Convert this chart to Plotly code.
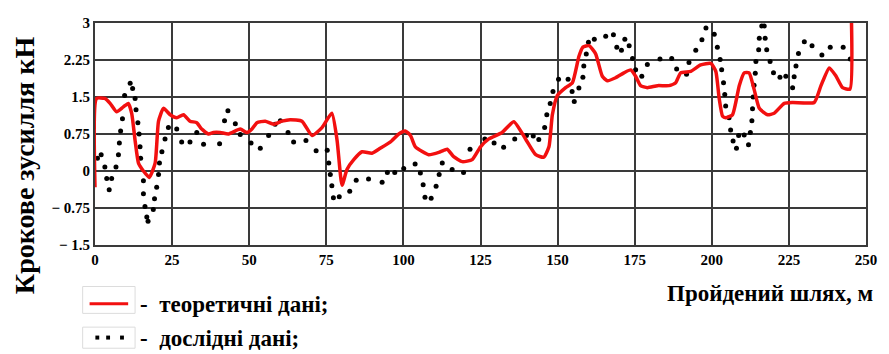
import plotly.graph_objects as go

# theoretical curve (red)
theory_x = [0.0, 0.5, 3.2, 4.9, 7.0, 9.2, 10.8, 11.9, 13.0, 14.1, 15.7, 17.6, 19.5, 20.6,
            22.2, 24.4, 26.5, 28.7, 30.8, 33.0, 34.6, 36.8, 38.4, 40.6, 43.3, 47.1, 49.3,
            50.9, 52.5, 55.2, 57.9, 60.6, 63.3, 67.1, 70.4, 73.6, 76.8, 78.5, 80.1, 81.7,
            83.9, 86.6, 89.8, 92.5, 95.8, 98.5, 100.6, 102.3, 103.9, 108.2, 112.0, 114.2,
            116.3, 119.1, 122.3, 125.0, 127.7, 132.0, 135.8, 139.6, 142.9, 145.5, 147.2,
            148.3, 149.9, 152.6, 154.8, 156.9, 158.2, 160.2, 162.3, 164.5, 166.1, 168.8,
            171.5, 173.7, 175.3, 176.9, 179.1, 182.4, 186.1, 188.3, 189.9, 193.2, 196.4,
            199.7, 201.3, 202.4, 203.5, 204.5, 206.7, 208.9, 210.5, 212.1, 213.7, 215.4,
            218.1, 220.2, 223.5, 226.2, 233.2, 235.4, 238.1, 240.3, 242.4, 244.8, 245.3]
theory_y = [-0.33, 1.47, 1.47, 1.37, 1.2, 1.30, 1.37, 1.17, 0.62, 0.16, 0.0, -0.13, 0.16, 1.01,
            1.27, 1.14, 1.08, 1.14, 1.01, 0.98, 0.85, 0.75, 0.78, 0.78, 0.75, 0.85, 0.78,
            0.85, 0.98, 1.01, 0.95, 1.01, 1.04, 1.01, 0.72, 0.88, 1.17, 0.62, -0.29, 0.03,
            0.23, 0.39, 0.36, 0.46, 0.59, 0.75, 0.81, 0.72, 0.49, 0.33, 0.39, 0.44,
            0.29, 0.19, 0.23, 0.49, 0.65, 0.78, 1.0, 0.65, 0.33, 0.28, 0.49,
            1.14, 1.53, 1.69, 1.79, 2.32, 2.51, 2.54, 2.38, 1.92, 1.83, 1.89,
            1.99, 2.05, 1.92, 1.73, 1.69, 1.73, 1.73, 1.79, 1.99, 2.02, 2.15,
            2.18, 2.02, 1.47, 1.11, 1.08, 1.14, 1.73, 1.99, 1.99, 1.66, 1.27,
            1.14, 1.17, 1.37, 1.39, 1.39, 1.73, 2.09, 1.92, 1.69, 1.66, 3.0]

# experimental points (black dots)
exp_x = [0.8, 2.0, 3.2, 3.8, 4.6, 5.4, 6.8, 7.6, 7.9, 8.3, 8.9, 9.6, 11.4, 12.2, 13.0, 13.3,
         13.9, 14.3, 14.6, 14.8, 15.7, 15.7, 16.2, 16.8, 17.2, 18.9, 19.3, 20.0, 20.6, 20.9,
         21.7, 22.7, 23.8, 26.5, 28.1, 30.8, 33.0, 35.2, 40.4, 42.0, 43.1, 45.5, 47.1, 50.6,
         53.6, 56.3, 58.4, 60.1, 62.6, 64.4, 68.4, 71.7, 75.3, 75.8, 76.3, 76.8, 77.3, 79.2,
         82.6, 84.7, 88.7, 93.1, 94.8, 97.2, 100.1, 103.8, 105.5, 106.4, 107.0, 109.0, 110.6,
         111.6, 112.6, 115.8, 119.5, 121.6, 126.4, 129.4, 132.5, 136.1, 139.9, 142.1, 143.9,
         145.8, 146.5, 147.6, 148.5, 150.3, 153.4, 154.7, 155.4, 156.9, 158.2, 158.5, 159.3,
         160.0, 161.9, 165.6, 168.1, 169.2, 170.7, 171.8, 173.2, 174.3, 175.3, 177.3, 179.1,
         183.2, 187.0, 188.6, 191.8, 192.6, 194.8, 196.8, 198.1, 200.8, 201.8, 202.7, 203.2,
         203.8, 204.2, 204.5, 205.6, 206.1, 206.9, 208.0, 208.7, 210.5, 211.9, 212.5, 213.0,
         213.2, 213.4, 213.7, 214.1, 214.3, 215.2, 215.4, 216.2, 217.0, 217.3, 217.8, 218.9,
         220.0, 222.1, 224.0, 226.2, 226.7, 227.3, 228.1, 230.0, 232.5, 235.7, 238.4, 242.6,
         244.9]
exp_y = [0.26, 0.33, 0.08, -0.15, -0.38, -0.15, 0.08, 0.33, 0.57, 0.81, 1.06, 1.53, 1.78, 1.67,
         1.47, 1.24, 0.98, 0.75, 0.49, 0.26, -0.2, -0.46, -0.72, -0.93, -1.02, -0.78, -0.56,
         -0.33, -0.07, 0.16, 0.39, 0.65, 0.88, 0.85, 0.59, 0.59, 0.78, 0.54, 0.55, 1.02, 1.22,
         0.96, 0.74, 0.57, 0.46, 0.72, 0.95, 1.02, 0.78, 0.59, 0.62, 0.41, 0.42, 0.16, -0.07,
         -0.3, -0.54, -0.52, -0.41, -0.19, -0.16, -0.23, -0.03, -0.03, 0.05, 0.14, -0.04,
         -0.28, -0.53, -0.55, -0.31, -0.07, 0.16, 0.03, -0.03, 0.44, 0.65, 0.57, 0.48, 0.65,
         0.72, 0.71, 0.64, 0.88, 1.14, 1.37, 1.61, 1.86, 1.86, 1.61, 1.41, 1.68, 1.9, 2.13,
         2.37, 2.61, 2.67, 2.73, 2.76, 2.51, 2.45, 2.67, 2.54, 2.28, 2.05, 1.92, 2.16, 2.27,
         2.28, 2.07, 1.96, 2.2, 2.45, 2.66, 2.9, 2.77, 2.51, 2.26, 2.05, 1.79, 1.55, 1.32,
         1.08, 0.83, 0.61, 0.46, 0.72, 0.73, 0.53, 0.78, 1.02, 1.26, 1.5, 1.74, 1.98, 2.22,
         2.46, 2.69, 2.94, 2.94, 2.69, 2.46, 2.22, 1.99, 1.9, 1.92, 1.69, 1.91, 2.13, 2.38,
         2.62, 2.54, 2.35, 2.51, 2.51, 2.27]

x_ticks = [0, 25, 50, 75, 100, 125, 150, 175, 200, 225, 250]
y_ticks = [-1.5, -0.75, 0, 0.75, 1.5, 2.25, 3]
y_tick_text = ["\u2212 1.5", "\u2212 0.75", "0", "0.75", "1.5", "2.25", "3"]

serif = "Liberation Serif, Times New Roman, serif"
grid_col = "#3a3a3a"
red = "#f21010"

fig = go.Figure()

fig.add_trace(go.Scatter(
    x=exp_x, y=exp_y, mode="markers",
    marker=dict(color="black", size=5),
    showlegend=False
))
fig.add_trace(go.Scatter(
    x=theory_x, y=theory_y, mode="lines",
    line=dict(color=red, width=3.5, shape="spline", smoothing=0.5),
    showlegend=False
))

# manual legend below the plot: faint boxes, symbols and labels
for y0, y1 in [(-0.187, -0.308), (-0.370, -0.465)]:
    fig.add_shape(type="rect", xref="paper", yref="paper",
                  x0=-0.016, x1=0.052, y0=y0, y1=y1,
                  line=dict(color="#dcdcdc", width=1))
fig.add_shape(type="line", xref="paper", yref="paper",
              x0=-0.007, x1=0.043, y0=-0.265, y1=-0.265,
              line=dict(color=red, width=3))
for xd in [0.003, 0.017, 0.035]:
    fig.add_shape(type="rect", xref="paper", yref="paper",
                  x0=xd - 0.0025, x1=xd + 0.0025, y0=-0.417 - 0.009, y1=-0.417 + 0.009,
                  fillcolor="black", line=dict(width=0))

ann_font = dict(family=serif, size=23, color="black", weight="bold")
fig.add_annotation(text="-  теоретичні дані;", xref="paper", yref="paper",
                   x=0.056, y=-0.268, xanchor="left", yanchor="middle",
                   showarrow=False, font=ann_font)
fig.add_annotation(text="-  дослідні дані;", xref="paper", yref="paper",
                   x=0.056, y=-0.420, xanchor="left", yanchor="middle",
                   showarrow=False, font=ann_font)
fig.add_annotation(text="Пройдений шлях, м", xref="paper", yref="paper",
                   x=1.012, y=-0.217, xanchor="right", yanchor="middle",
                   showarrow=False, font=ann_font)
fig.add_annotation(text="Крокове зусилля кН", xref="paper", yref="paper",
                   x=-0.092, y=0.36, xanchor="center", yanchor="middle", textangle=-90,
                   showarrow=False, font=dict(family=serif, size=28, color="black", weight="bold"))

# the page body has an 8px margin, so the figure is shrunk and shifted to compensate
fig.update_layout(
    width=881, height=346,
    margin=dict(l=87, r=23, t=7, b=109),
    paper_bgcolor="white", plot_bgcolor="white",
    xaxis=dict(range=[0, 250], tickvals=x_ticks, showgrid=True, gridcolor=grid_col,
               gridwidth=1.5, showline=True, mirror=True, linecolor=grid_col, linewidth=2,
               zeroline=False, ticks="",
               tickfont=dict(family=serif, size=15, color="black", weight="bold")),
    yaxis=dict(range=[-1.5, 3], tickvals=y_ticks, ticktext=y_tick_text, showgrid=True,
               gridcolor=grid_col, gridwidth=1.5, showline=True, mirror=True,
               linecolor=grid_col, linewidth=2, zeroline=False, ticks="",
               tickfont=dict(family=serif, size=15, color="black", weight="bold")),
)

fig.write_html("out.html")
